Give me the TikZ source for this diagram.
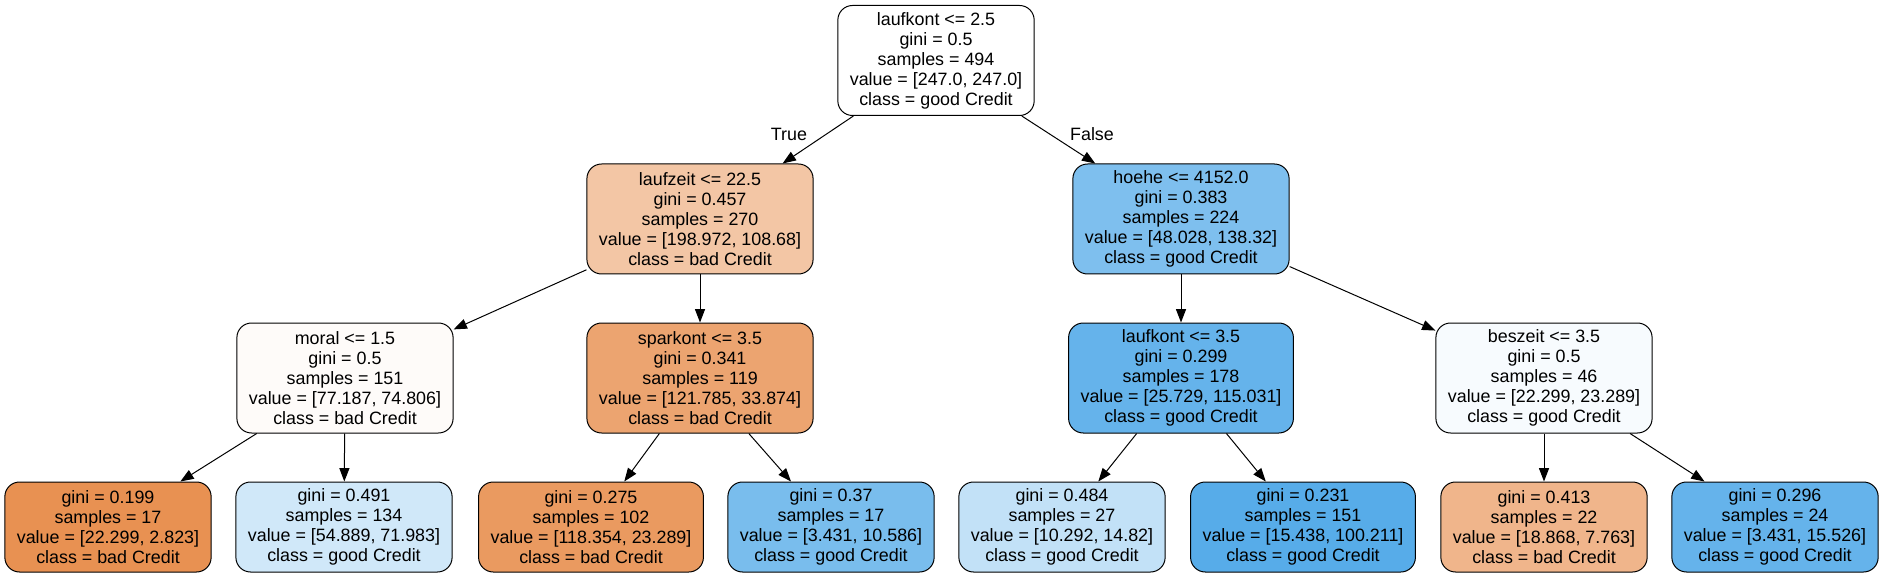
\documentclass[tikz,border=0pt]{standalone}
\usepackage{fontspec}
\setmainfont{Liberation Sans}
\usepackage{tikz}
\usetikzlibrary{positioning,calc,arrows.meta}
\usepackage{xcolor}
\definecolor{lzeitfill}{RGB}{243,198,165}
\definecolor{hoehefill}{RGB}{126,191,238}
\definecolor{moralfill}{RGB}{254,251,249}
\definecolor{sparkfill}{RGB}{236,164,112}
\definecolor{lkontfill}{RGB}{101,179,235}
\definecolor{beszfill}{RGB}{247,251,254}
\definecolor{leafA}{RGB}{232,145,82}
\definecolor{leafB}{RGB}{208,232,249}
\definecolor{leafC}{RGB}{234,154,96}
\definecolor{leafD}{RGB}{121,189,237}
\definecolor{leafE}{RGB}{194,225,247}
\definecolor{leafF}{RGB}{87,172,233}
\definecolor{leafG}{RGB}{240,181,139}
\definecolor{leafH}{RGB}{101,179,235}

\begin{document}
\begin{tikzpicture}[
  x=0.75pt, y=-0.75pt,
  every node/.style={font=\fontsize{13.4}{15}\selectfont},
  box/.style={rectangle, draw=black, rounded corners=11pt, line width=0.75pt, align=center, inner xsep=9pt, inner ysep=0pt, minimum height=82.5pt},
  leaf/.style={box, minimum height=67.5pt},
  arr/.style={-{Triangle[length=10pt,width=7.5pt]}, line width=0.75pt}
]
\useasboundingbox (0,0) rectangle (1884,577);

% split nodes
\node[box, fill=white] (root) at (936,60.5) {laufkont <= 2.5\\gini = 0.5\\samples = 494\\value = [247.0, 247.0]\\class = good Credit};
\node[box, fill=lzeitfill] (lzeit) at (700,219) {laufzeit <= 22.5\\gini = 0.457\\samples = 270\\value = [198.972, 108.68]\\class = bad Credit};
\node[box, fill=hoehefill] (hoehe) at (1181,219) {hoehe <= 4152.0\\gini = 0.383\\samples = 224\\value = [48.028, 138.32]\\class = good Credit};
\node[box, fill=moralfill] (moral) at (345,378) {moral <= 1.5\\gini = 0.5\\samples = 151\\value = [77.187, 74.806]\\class = bad Credit};
\node[box, fill=sparkfill] (spark) at (700,378) {sparkont <= 3.5\\gini = 0.341\\samples = 119\\value = [121.785, 33.874]\\class = bad Credit};
\node[box, fill=lkontfill] (lkont) at (1181,378) {laufkont <= 3.5\\gini = 0.299\\samples = 178\\value = [25.729, 115.031]\\class = good Credit};
\node[box, fill=beszfill] (besz) at (1544,378) {beszeit <= 3.5\\gini = 0.5\\samples = 46\\value = [22.299, 23.289]\\class = good Credit};

% leaves
\node[leaf, fill=leafA] (g199) at (108,527) {gini = 0.199\\samples = 17\\value = [22.299, 2.823]\\class = bad Credit};
\node[leaf, fill=leafB] (g491) at (344,527) {gini = 0.491\\samples = 134\\value = [54.889, 71.983]\\class = good Credit};
\node[leaf, fill=leafC] (g275) at (591,527) {gini = 0.275\\samples = 102\\value = [118.354, 23.289]\\class = bad Credit};
\node[leaf, fill=leafD] (g37) at (831,527) {gini = 0.37\\samples = 17\\value = [3.431, 10.586]\\class = good Credit};
\node[leaf, fill=leafE] (g484) at (1062,527) {gini = 0.484\\samples = 27\\value = [10.292, 14.82]\\class = good Credit};
\node[leaf, fill=leafF] (g231) at (1303,527) {gini = 0.231\\samples = 151\\value = [15.438, 100.211]\\class = good Credit};
\node[leaf, fill=leafG] (g413) at (1544,527) {gini = 0.413\\samples = 22\\value = [18.868, 7.763]\\class = bad Credit};
\node[leaf, fill=leafH] (g296) at (1775,527) {gini = 0.296\\samples = 24\\value = [3.431, 15.526]\\class = good Credit};

\draw[arr] (root) -- (lzeit);
\draw[arr] (root) -- (hoehe);
\draw[arr] (lzeit) -- (moral);
\draw[arr] (lzeit) -- (spark);
\draw[arr] (moral) -- (g199);
\draw[arr] (moral) -- (g491);
\draw[arr] (spark) -- (g275);
\draw[arr] (spark) -- (g37);
\draw[arr] (hoehe) -- (lkont);
\draw[arr] (hoehe) -- (besz);
\draw[arr] (lkont) -- (g484);
\draw[arr] (lkont) -- (g231);
\draw[arr] (besz) -- (g413);
\draw[arr] (besz) -- (g296);

\node (true) at (789,134) {True};
\node (false) at (1092,134) {False};
\end{tikzpicture}
\end{document}
